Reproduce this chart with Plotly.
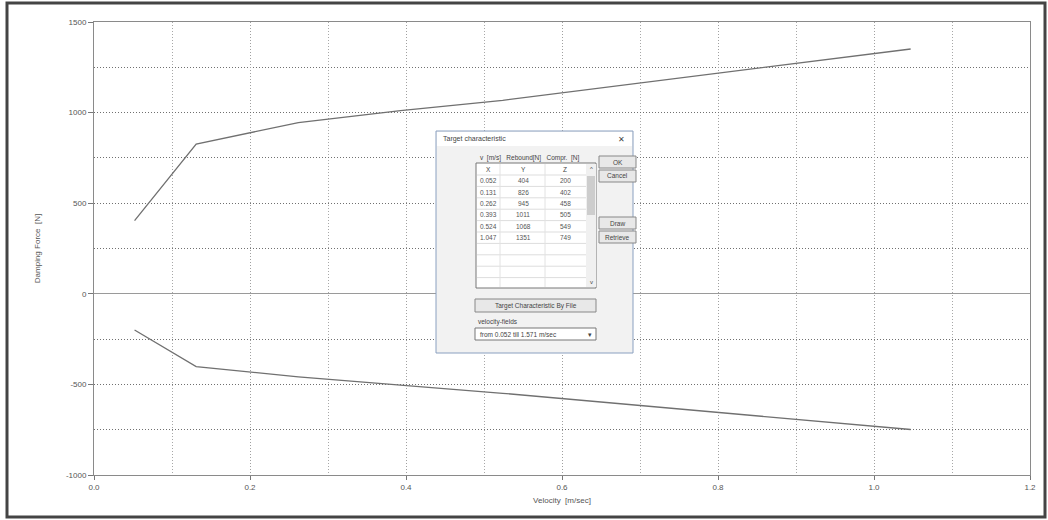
import plotly.graph_objects as go

# ---- data ----
velocity = [0.052, 0.131, 0.262, 0.393, 0.524, 1.047]
rebound = [404, 826, 945, 1011, 1068, 1351]
compression = [200, 402, 458, 505, 549, 749]

x_ticks = [0.0, 0.2, 0.4, 0.6, 0.8, 1.0, 1.2]
x_ticklabels = ["0.0", "0.2", "0.4", "0.6", "0.8", "1.0", "1.2"]
y_ticks = [-1000, -500, 0, 500, 1000, 1500]
y_ticklabels = ["-1000", "-500", "0", "500", "1000", "1500"]

W, H = 1048, 520
L, R, T, B = 94, 18, 22, 45
PW, PH = W - L - R, H - T - B

def px(x):
    return (x - L) / PW

def py(y):
    return (H - B - y) / PH

FONT = "Liberation Sans"
TXT = "#555555"

fig = go.Figure()
fig.add_trace(go.Scatter(x=velocity, y=rebound, mode="lines",
                         line=dict(color="#707070", width=1.3), showlegend=False))
fig.add_trace(go.Scatter(x=velocity, y=[-c for c in compression], mode="lines",
                         line=dict(color="#707070", width=1.3), showlegend=False))

fig.update_layout(
    width=W, height=H,
    margin=dict(l=L, r=R, t=T, b=B, pad=0),
    paper_bgcolor="white", plot_bgcolor="white",
    font=dict(family=FONT, size=8, color=TXT),
    showlegend=False,
)
DOT = "1px,2px"
fig.update_xaxes(
    range=[0, 1.2], tickvals=x_ticks, ticktext=x_ticklabels,
    showgrid=True, gridcolor="#a0a0a0", griddash=DOT, gridwidth=1,
    minor=dict(dtick=0.1, showgrid=True, gridcolor="#a8a8a8", griddash=DOT, gridwidth=1),
    showline=True, linecolor="#8a8a8a", linewidth=1, mirror=True,
    ticks="outside", ticklen=4, tickcolor="#777777",
    zeroline=False,
    title=dict(text="Velocity  [m/sec]", font=dict(size=8, color=TXT), standoff=6),
    tickfont=dict(size=8, color=TXT),
)
fig.update_yaxes(
    range=[-1000, 1500], tickvals=y_ticks, ticktext=y_ticklabels,
    showgrid=True, gridcolor="#707070", griddash=DOT, gridwidth=1,
    minor=dict(dtick=250, showgrid=True, gridcolor="#707070", griddash=DOT, gridwidth=1),
    showline=True, linecolor="#8a8a8a", linewidth=1, mirror=True,
    ticks="outside", ticklen=5, tickcolor="#777777",
    zeroline=True, zerolinecolor="#9a9a9a", zerolinewidth=1.2,
    title=dict(text="Damping Force  [N]", font=dict(size=8, color=TXT), standoff=24),
    tickfont=dict(size=8, color=TXT),
)

shapes = []
annotations = []

def rect(x0, y0, x1, y1, fill="rgba(0,0,0,0)", line="#888888", lw=1):
    shapes.append(dict(type="rect", xref="paper", yref="paper",
                       x0=px(x0), x1=px(x1), y0=py(y1), y1=py(y0),
                       fillcolor=fill, line=dict(color=line, width=lw), layer="above"))

def hline(x0, x1, y, color="#cccccc", lw=1):
    shapes.append(dict(type="line", xref="paper", yref="paper",
                       x0=px(x0), x1=px(x1), y0=py(y), y1=py(y),
                       line=dict(color=color, width=lw), layer="above"))

def vline(x, y0, y1, color="#cccccc", lw=1):
    shapes.append(dict(type="line", xref="paper", yref="paper",
                       x0=px(x), x1=px(x), y0=py(y0), y1=py(y1),
                       line=dict(color=color, width=lw), layer="above"))

def text(x, y, s, size=7, anchor="left", color="#444444"):
    annotations.append(dict(xref="paper", yref="paper", x=px(x), y=py(y), text=s,
                            showarrow=False, xanchor=anchor, yanchor="middle",
                            font=dict(size=size, color=color, family=FONT)))

# outer frame of the screenshot
rect(7, 3, 1045, 517, line="#444444", lw=3)

# dialog window
rect(436, 131, 633, 353, fill="#f2f2f2", line="#8aa0c0", lw=1)
rect(437, 132, 632, 146, fill="#ffffff", line="rgba(0,0,0,0)", lw=0)
text(441, 139, "Target characteristic", size=7)
text(621, 139, "✕", size=8, anchor="center")

# table
text(478, 158, "v  [m/s]   Rebound[N]   Compr.  [N]", size=6.5)
rect(476, 163, 596, 288, fill="#ffffff", line="#777777")
rect(586, 164, 596, 287, fill="#f0f0f0", line="rgba(0,0,0,0)", lw=0)
rect(587, 176, 595, 215, fill="#cdcdcd", line="rgba(0,0,0,0)", lw=0)
text(591, 169, "^", size=6, anchor="center")
text(591, 282, "v", size=6, anchor="center")
row_y0 = 175
row_h = 11.4
for i in range(10):
    hline(477, 586, row_y0 + i * row_h, color="#dddddd")
vline(500, 164, 287, color="#e2e2e2")
vline(545, 164, 287, color="#e2e2e2")
text(488, 169, "X", size=6.5, anchor="center")
text(523, 169, "Y", size=6.5, anchor="center")
text(565, 169, "Z", size=6.5, anchor="center")
for i, (v, r, c) in enumerate(zip(velocity, rebound, compression)):
    yy = row_y0 + row_h * (i + 0.5)
    text(488, yy, f"{v:.3f}", size=6.5, anchor="center", color="#555555")
    text(523, yy, f"{r}", size=6.5, anchor="center", color="#555555")
    text(565, yy, f"{c}", size=6.5, anchor="center", color="#555555")

# buttons
for (y0, y1, lab) in [(156, 168, "OK"), (170, 182, "Cancel"), (217, 229, "Draw"), (231, 243, "Retrieve")]:
    rect(599, y0, 636, y1, fill="#e8e8e8", line="#888888")
    text(617.5, (y0 + y1) / 2, lab, size=6.5, anchor="center")
rect(475, 299, 596, 312, fill="#e8e8e8", line="#888888")
text(535.5, 305.5, "Target Characteristic By File", size=6.5, anchor="center")
text(476, 322, "velocity-fields", size=6.5)
rect(475, 328, 596, 340, fill="#ffffff", line="#777777")
text(478, 334, "from 0.052 till 1.571 m/sec", size=6.5)
text(590, 334, "▾", size=7, anchor="center")

fig.update_layout(shapes=shapes, annotations=annotations)
fig.write_html("out.html",
               config={"displayModeBar": False},
               post_script="document.body.style.margin='0px';document.body.style.padding='0px';")
